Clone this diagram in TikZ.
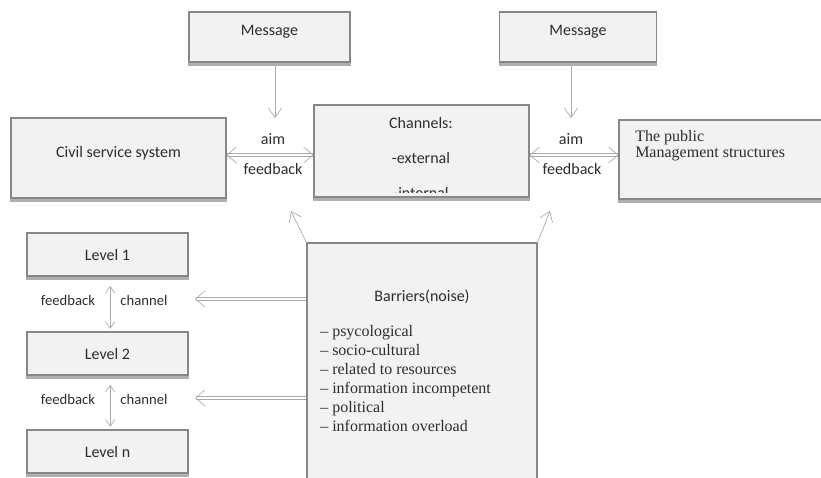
\documentclass[tikz,border=0pt]{standalone}
\usepackage{fontspec}
\setmainfont{Liberation Serif}
\newfontfamily\calibri{Carlito}
\usetikzlibrary{arrows.meta, positioning}
\definecolor{boxfill}{RGB}{242,242,242}
\definecolor{boxline}{RGB}{135,135,135}
\definecolor{arrowgray}{RGB}{170,170,170}
\definecolor{shadowgray}{RGB}{175,175,175}
\definecolor{inkgray}{RGB}{45,45,45}

\tikzset{
  box/.style={draw=boxline, fill=boxfill, line width=0.8pt, inner sep=0pt,
    font=\calibri\fontsize{12}{14}\selectfont, text=inkgray},
  sz/.style 2 args={minimum width=#1*0.75pt, minimum height=#2*0.75pt},
  lbl/.style={font=\calibri\fontsize{12}{14}\selectfont, text=inkgray, inner sep=0pt},
  smalllbl/.style={font=\calibri\fontsize{11}{13}\selectfont, text=inkgray, inner sep=0pt},
  serif/.style={font=\fontsize{12}{12}\selectfont, text=inkgray, inner sep=0pt, align=left},
  thinarrow/.style={draw=arrowgray, line width=0.5pt, -{Straight Barb[length=7pt,width=10pt]}},
  twoway/.style={draw=arrowgray, line width=0.5pt, {Straight Barb[length=5pt,width=7pt]}-{Straight Barb[length=5pt,width=7pt]}},
  dblarrow/.style={draw=arrowgray, double=white, double distance=2.2pt, line width=0.5pt, -{Straight Barb[length=7pt,width=12pt]}},
  dbltwoway/.style={dblarrow, {Straight Barb[length=7pt,width=12pt]}-{Straight Barb[length=7pt,width=12pt]}},
  shadowline/.style={draw=shadowgray, line width=2pt}
}

\begin{document}
\begin{tikzpicture}[x=0.75pt, y=-0.75pt]
  \useasboundingbox (0,0) rectangle (821,478);

  % top row
  \node[box, sz={161}{50}, text depth=9.5pt] (msgA) at (269.5,37) {Message};
  \node[box, sz={157}{50}, text depth=9.5pt] (msgB) at (578,37) {Message};

  \node[box, sz={215}{80}, text depth=8.5pt] (civil) at (118.5,158) {Civil service system};
  \node[box, sz={215}{92}] (chan) at (421.5,151) {};
  \node[box, sz={204}{79}] (pub) at (721,159.5) {};

  \node[lbl] (chanT) at (421,123) {Channels:};
  \node[lbl] (chanE) at (421,158) {-external};
  \begin{scope}
    \clip (316,107) rectangle (527,192);
    \node[lbl] (chanI) at (421,193) {-internal};
  \end{scope}
  \node[serif, anchor=north west] (pubT) at (635,130) {The public\\Management structures};

  % message arrows
  \coordinate (tipA) at (275,118);
  \coordinate (tipB) at (571,118);
  \draw[thinarrow] (msgA.south -| tipA) -- (tipA);
  \draw[thinarrow] (msgB.south -| tipB) -- (tipB);

  % aim / feedback
  \draw[dbltwoway] ([yshift=2.25pt]civil.east) -- ([yshift=2.25pt]civil.east -| chan.west);
  \draw[dbltwoway] ([yshift=-3pt]chan.east) -- ([yshift=-3pt]chan.east -| pub.west);
  \node[lbl] (aimA) at (273,139) {aim};
  \node[lbl] (fbA) at (273,169) {feedback};
  \node[lbl] (aimB) at (571,139) {aim};
  \node[lbl] (fbB) at (572,169) {feedback};

  % levels
  \node[box, sz={161}{43}] (lev1) at (107.5,254.5) {Level 1};
  \node[box, sz={161}{43}] (lev2) at (107.5,353.5) {Level 2};
  \node[box, sz={161}{43}] (levn) at (107.5,451.5) {Level n};

  \draw[twoway, shorten <=7pt, shorten >=2pt] ([xshift=2pt]lev1.south) -- ([xshift=2pt]lev2.north);
  \draw[twoway, shorten <=7pt, shorten >=2pt] ([xshift=2pt]lev2.south) -- ([xshift=2pt]levn.north);
  \node[smalllbl] (fb1) at (68,300) {feedback};
  \node[smalllbl] (ch1) at (144,300) {channel};
  \node[smalllbl] (fb2) at (68,399) {feedback};
  \node[smalllbl] (ch2) at (144,399) {channel};

  % barriers
  \node[box, sz={230}{240}] (barr) at (422,363) {};
  \node[lbl] (barT) at (422,297) {Barriers(noise)};
  \node[serif, anchor=north west, font=\fontsize{12}{14.25}\selectfont] (barL) at (320,325)
    {-- psycological\\-- socio-cultural\\-- related to resources\\-- information incompetent\\-- political\\-- information overload};

  \coordinate (toL1) at (195,299);
  \coordinate (toL2) at (195,398);
  \draw[dblarrow] (barr.west |- toL1) -- (toL1);
  \draw[dblarrow] (barr.west |- toL2) -- (toL2);

  \coordinate (upA) at (291,211);
  \coordinate (upB) at (550,211);
  \draw[thinarrow] (barr.north west) -- (upA);
  \draw[thinarrow] (barr.north east) -- (upB);

  % shadows
  \foreach \b in {msgA, msgB, civil, chan, pub, lev1, lev2, levn}
    \draw[shadowline] ([yshift=-1.6pt]\b.south west) -- ([yshift=-1.6pt]\b.south east);
\end{tikzpicture}
\end{document}
